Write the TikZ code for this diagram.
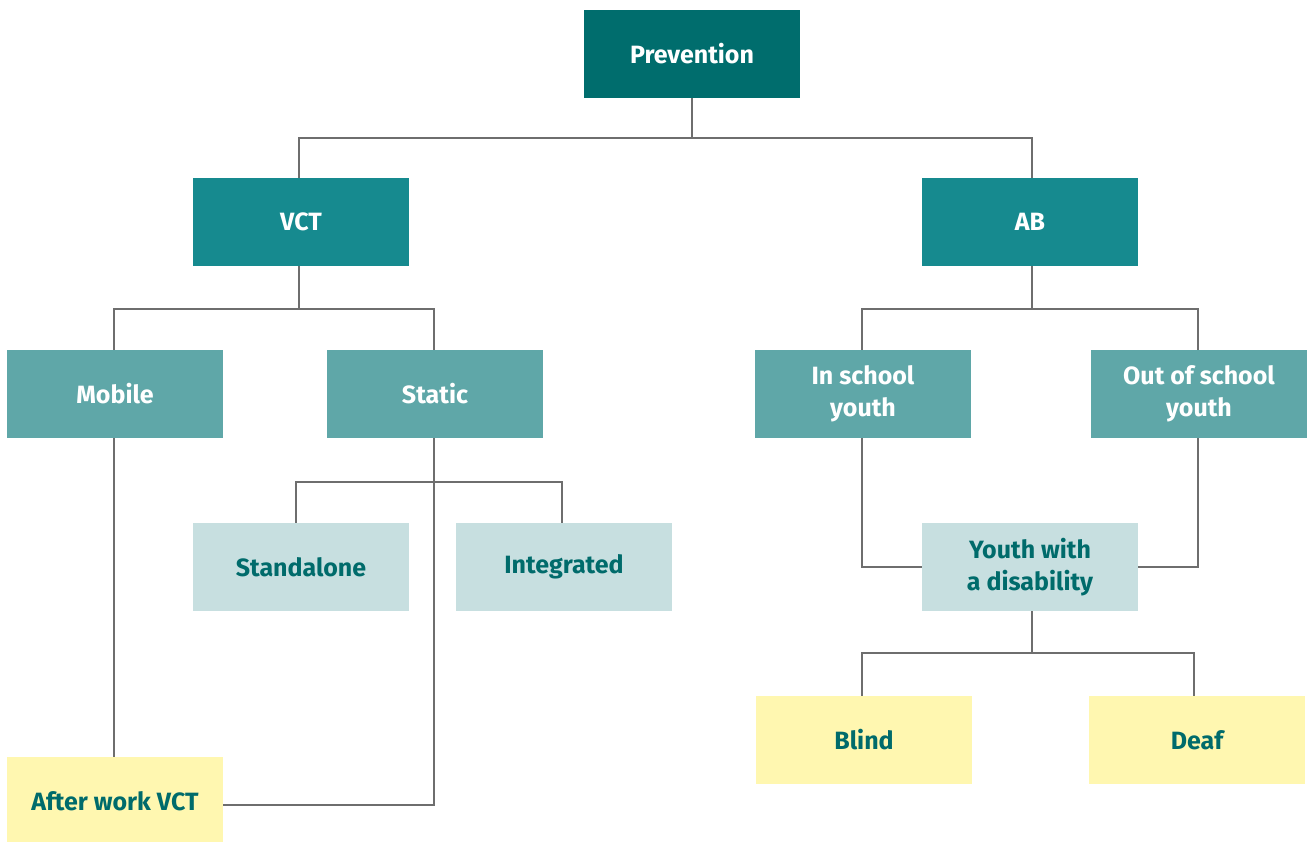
\documentclass[tikz,border=0pt]{standalone}
\usepackage{fontspec}
\setmainfont{Fira Sans}
\definecolor{cA}{HTML}{006D6D}
\definecolor{cB}{HTML}{168A8F}
\definecolor{cC}{HTML}{5FA7A8}
\definecolor{cD}{HTML}{C7DFE0}
\definecolor{cE}{HTML}{FFF7B0}
\definecolor{txt}{HTML}{006B6B}
\definecolor{ln}{HTML}{6E6E6E}
\begin{document}
\begin{tikzpicture}[x=1pt,y=-1pt,
  box/.style={minimum width=216pt,minimum height=88pt,inner sep=0pt,align=center,font=\fontsize{25}{32}\selectfont\bfseries},
  l1/.style={box,fill=cA,text=white},
  l2/.style={box,fill=cB,text=white},
  l3/.style={box,fill=cC,text=white},
  l4/.style={box,fill=cD,text=txt},
  l5/.style={box,fill=cE,text=txt},
  conn/.style={draw=ln,line width=2.5pt}]
\useasboundingbox (0,0) rectangle (1308,841);
\begin{scope}
\clip (0,0) rectangle (1308,841);
\node[l1] (prev) at (692,54) {Prevention};
\node[l2] (vct) at (301,222) {VCT};
\node[l2] (ab) at (1030,222) {AB};
\node[l3] (mob) at (115,394) {Mobile};
\node[l3] (stat) at (435,394) {Static};
\node[l3] (insch) at (863,394) {In school\\youth};
\node[l3] (outsch) at (1199,394) {Out of school\\youth};
\node[l4] (stand) at (301,567) {Standalone};
\node[l4] (integ) at (564,567) {Integrated};
\node[l4] (ywd) at (1030,567) {Youth with\\a disability};
\node[l5] (blind) at (864,740) {Blind};
\node[l5] (deaf) at (1197,740) {Deaf};
\node[l5] (after) at (115,801) {After work VCT};
\end{scope}
\coordinate (j1) at (692,138);
\coordinate (j2) at (299,309);
\coordinate (j3) at (1032,309);
\coordinate (j4) at (434,482);
\coordinate (j5) at (1032,653);
\coordinate (ae) at (223,805);
\draw[conn] (prev.south) -- (j1);
\draw[conn] (j1) -| (299,178);
\draw[conn] (j1) -| (1032,178);
\draw[conn] (vct.south -| 299,0) -- (j2);
\draw[conn] (j2) -| (114,350);
\draw[conn] (j2) -| (434,350);
\draw[conn] (ab.south -| 1032,0) -- (j3);
\draw[conn] (j3) -| (862,350);
\draw[conn] (j3) -| (1198,350);
\draw[conn] (stat.south -| 434,0) |- (ae);
\draw[conn] (j4) -| (296,523);
\draw[conn] (j4) -| (562,523);
\draw[conn] (mob.south -| 114,0) -- (114,757);
\draw[conn] (insch.south -| 862,0) |- (ywd.west);
\draw[conn] (outsch.south -| 1198,0) |- (ywd.east);
\draw[conn] (ywd.south -| 1032,0) -- (j5);
\draw[conn] (j5) -| (862,696);
\draw[conn] (j5) -| (1194,696);
\end{tikzpicture}
\end{document}
